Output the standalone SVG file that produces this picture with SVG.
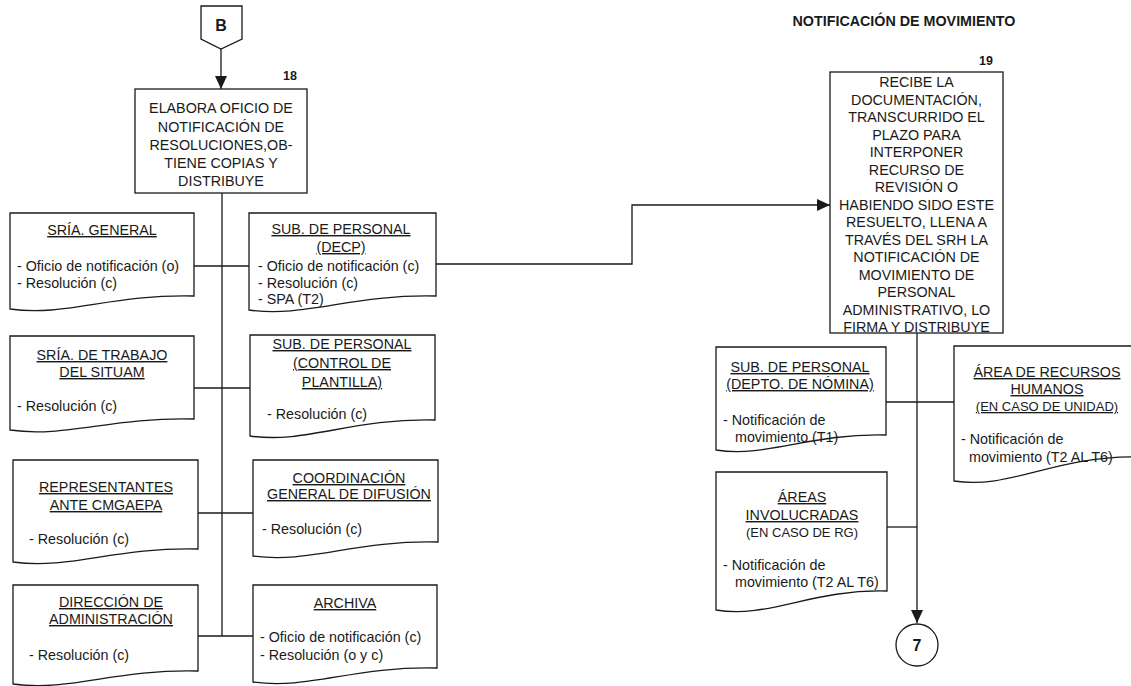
<svg xmlns="http://www.w3.org/2000/svg" width="1131" height="686" viewBox="0 0 1131 686">
<defs>
<style>
text{font-family:"Liberation Sans",Arial,sans-serif;font-size:14.3px;fill:#1a1a1a}
.c{text-anchor:middle}
.u{text-decoration:underline}
.b{font-weight:bold}
.s{font-size:13px}
.n{font-size:12.5px;font-weight:bold}
.big{font-size:16px;font-weight:bold}
.sh{fill:#fff;stroke:#1a1a1a;stroke-width:1.3}
.ln{fill:none;stroke:#1a1a1a;stroke-width:1.3}
</style>
<marker id="ar" viewBox="0 0 13 12" refX="13" refY="6" markerWidth="13" markerHeight="12" markerUnits="userSpaceOnUse" orient="auto">
<path d="M0,0 L13,6 L0,12 Z" fill="#1a1a1a"/>
</marker>
</defs>
<rect width="1131" height="686" fill="#fff"/>

<g id="connectors">
<path class="ln" d="M221,49 V89" marker-end="url(#ar)"/>
<path class="ln" d="M222,193 V636"/>
<path class="ln" d="M194,266 H249"/>
<path class="ln" d="M194,388 H250"/>
<path class="ln" d="M198,513 H253"/>
<path class="ln" d="M198,636 H253"/>
<path class="ln" d="M436,264 H632 V205 H830" marker-end="url(#ar)"/>
<path class="ln" d="M917,333 V623" marker-end="url(#ar)"/>
<path class="ln" d="M886,402 H954"/>
<path class="ln" d="M887,527 H917"/>
</g>

<text class="b" x="904" y="26" text-anchor="middle">NOTIFICACIÓN DE MOVIMIENTO</text>

<g id="conn-B">
<path class="sh" d="M201,6 H242 V39 L221,49 L201,39 Z"/>
<text class="c big" x="221" y="31">B</text>
</g>

<g id="step18">
<rect class="sh" x="135" y="89" width="172" height="104"/>
<text class="n c" x="290" y="80">18</text>
<text class="c" x="221" y="113">ELABORA OFICIO DE</text>
<text class="c" x="221" y="131.5">NOTIFICACIÓN DE</text>
<text class="c" x="221" y="150">RESOLUCIONES,OB-</text>
<text class="c" x="221" y="168.3">TIENE COPIAS Y</text>
<text class="c" x="221" y="186">DISTRIBUYE</text>
</g>

<g id="doc-sria-general">
<path class="sh" d="M10,213 H194 V296 C111,294 65,317 10,309 Z"/>
<text class="c u" x="102" y="235">SRÍA. GENERAL</text>
<text x="17" y="271">- Oficio de notificación (o)</text>
<text x="17" y="288">- Resolución (c)</text>
</g>

<g id="doc-decp">
<path class="sh" d="M249,213 H436 V296 C352,294 305,318 249,310 Z"/>
<text class="c u" x="341" y="234">SUB. DE PERSONAL</text>
<text class="c u" x="341" y="252">(DECP)</text>
<text x="258" y="271">- Oficio de notificación (c)</text>
<text x="258" y="288">- Resolución (c)</text>
<text x="258" y="304">- SPA (T2)</text>
</g>

<g id="doc-sria-trabajo">
<path class="sh" d="M10,336 H194 V419 C111,417 65,438 10,430 Z"/>
<text class="c u" x="102" y="360">SRÍA. DE TRABAJO</text>
<text class="c u" x="102" y="377">DEL SITUAM</text>
<text x="17" y="411">- Resolución (c)</text>
</g>

<g id="doc-control-plantilla">
<path class="sh" d="M250,335 H435 V420 C352,418 306,444 250,436 Z"/>
<text class="c u" x="342" y="349">SUB. DE PERSONAL</text>
<text class="c u" x="342" y="368">(CONTROL DE</text>
<text class="c u" x="342" y="387">PLANTILLA)</text>
<text x="267" y="419">- Resolución (c)</text>
</g>

<g id="doc-representantes">
<path class="sh" d="M13,460 H198 V549 C115,547 69,570 13,562 Z"/>
<text class="c u" x="106" y="492">REPRESENTANTES</text>
<text class="c u" x="106" y="510">ANTE  CMGAEPA</text>
<text x="29" y="544">- Resolución (c)</text>
</g>

<g id="doc-coordinacion">
<path class="sh" d="M253,460 H438 V542 C355,540 309,564 253,556 Z"/>
<text class="c u" x="349" y="483">COORDINACIÓN</text>
<text class="c u" x="349" y="499">GENERAL DE DIFUSIÓN</text>
<text x="262" y="534">- Resolución (c)</text>
</g>

<g id="doc-direccion">
<path class="sh" d="M13,585 H198 V671 C115,669 69,692 13,684 Z"/>
<text class="c u" x="111" y="607">DIRECCIÓN DE</text>
<text class="c u" x="111" y="624">ADMINISTRACIÓN</text>
<text x="29" y="660">- Resolución (c)</text>
</g>

<g id="doc-archiva">
<path class="sh" d="M253,585 H437 V668 C354,666 308,690 253,682 Z"/>
<text class="c u" x="345" y="608">ARCHIVA</text>
<text x="260" y="642">- Oficio de notificación (c)</text>
<text x="260" y="660">- Resolución (o y c)</text>
</g>

<g id="step19">
<rect class="sh" x="830" y="72" width="173" height="261"/>
<text class="n c" x="986" y="65">19</text>
<text class="c" x="916.5" y="87">RECIBE LA</text>
<text class="c" x="916.5" y="104.5">DOCUMENTACIÓN,</text>
<text class="c" x="916.5" y="122">TRANSCURRIDO EL</text>
<text class="c" x="916.5" y="139.5">PLAZO PARA</text>
<text class="c" x="916.5" y="157">INTERPONER</text>
<text class="c" x="916.5" y="174.5">RECURSO DE</text>
<text class="c" x="916.5" y="192">REVISIÓN O</text>
<text class="c" x="916.5" y="209.5">HABIENDO SIDO ESTE</text>
<text class="c" x="916.5" y="227">RESUELTO, LLENA A</text>
<text class="c" x="916.5" y="244.5">TRAVÉS DEL SRH LA</text>
<text class="c" x="916.5" y="262">NOTIFICACIÓN DE</text>
<text class="c" x="916.5" y="279.5">MOVIMIENTO DE</text>
<text class="c" x="916.5" y="297">PERSONAL</text>
<text class="c" x="916.5" y="314.5">ADMINISTRATIVO, LO</text>
<text class="c" x="916.5" y="332">FIRMA Y DISTRIBUYE</text>
</g>

<g id="doc-nomina">
<path class="sh" d="M716,347 H886 V435 C810,433 767,458 716,450 Z"/>
<text class="c u" x="800" y="372">SUB. DE PERSONAL</text>
<text class="c u" x="800" y="389">(DEPTO. DE NÓMINA)</text>
<text x="723" y="425">- Notificación de</text>
<text x="735" y="442">movimiento (T1)</text>
</g>

<g id="doc-rrhh">
<path class="sh" d="M954,346 H1140 V457 C1056,455 1010,490 954,481 Z"/>
<text class="c u" x="1047" y="377">ÁREA DE RECURSOS</text>
<text class="c u" x="1047" y="394">HUMANOS</text>
<text class="c u s" x="1047" y="411">(EN CASO DE UNIDAD)</text>
<text x="961" y="444">- Notificación de</text>
<text x="969" y="462">movimiento (T2 AL T6)</text>
</g>

<g id="doc-areas">
<path class="sh" d="M716,472 H887 V591 C811,589 768,619 716,610 Z"/>
<text class="c u" x="802" y="502">ÁREAS</text>
<text class="c u" x="802" y="520">INVOLUCRADAS</text>
<text class="c s" x="802" y="537">(EN CASO DE RG)</text>
<text x="723" y="570">- Notificación de</text>
<text x="735" y="587">movimiento (T2 AL T6)</text>
</g>

<g id="conn-7">
<circle class="sh" cx="917" cy="645" r="21"/>
<text class="c big" x="917" y="651">7</text>
</g>
</svg>
